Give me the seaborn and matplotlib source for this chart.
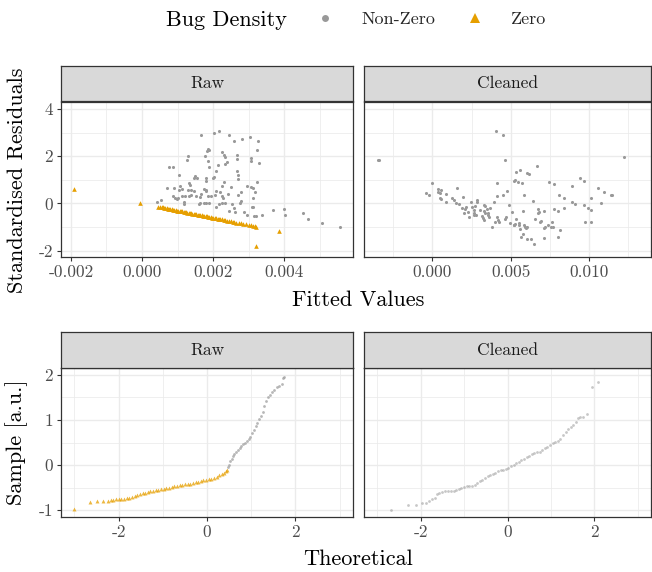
import numpy as np
import pandas as pd
import matplotlib
matplotlib.use("Agg")
import matplotlib.pyplot as plt
import seaborn as sns
from matplotlib.lines import Line2D
from matplotlib.ticker import FixedLocator, FixedFormatter

# ---------------- data ----------------
# Residuals vs fitted, Raw, non-zero bug density (fitted in units of 1e-3)
raw_nz_fit = [1.66, 2.03, 2.18, 2.44, 2.82, 3.03, 2.58, 1.85, 1.88, 1.83, 2.24, 2.30, 2.33, 1.77, 1.86,
              1.30, 1.28, 2.68, 2.67, 1.89, 2.14, 2.07, 2.39, 2.35, 0.77, 0.88, 2.67, 2.71, 1.04, 1.49,
              1.45, 1.54, 1.32, 1.34, 1.81, 1.79, 2.03, 2.00, 2.31, 2.24, 2.69, 0.69, 0.90, 1.07, 1.13,
              1.03, 1.37, 1.30, 1.45, 1.75, 1.81, 1.79, 2.07, 2.20, 2.50, 2.95, 3.12, 0.88, 0.94, 0.98,
              1.02, 1.13, 1.22, 1.32, 1.39, 1.51, 1.65, 1.62, 1.87, 1.94, 2.05, 2.24, 2.28, 2.43, 2.69,
              2.79, 2.77, 2.79, 3.12, 0.53, 0.43, 1.17, 1.19, 1.60, 1.64, 1.75, 1.79, 1.88, 2.07, 2.18,
              2.24, 2.35, 2.54, 2.58, 2.46, 2.63, 2.88, 3.10, 2.97, 3.14, 3.27, 3.24, 3.08, 3.08, 3.28,
              3.24, 3.07, 3.17, 3.13, 3.22, 3.38, 3.68, 4.00, 4.03, 4.54, 4.68, 5.08, 5.58]
raw_nz_res = [2.89, 3.00, 3.06, 2.89, 2.75, 2.80, 2.63, 2.32, 2.27, 2.21, 2.18, 2.07, 1.96, 1.99, 1.82,
              2.01, 1.86, 2.07, 1.90, 1.56, 1.65, 1.39, 1.76, 1.68, 1.56, 1.56, 1.37, 1.20, 1.20, 1.17,
              1.08, 1.06, 0.86, 0.77, 1.06, 0.97, 1.14, 1.06, 0.89, 0.75, 1.03, 0.66, 0.66, 0.72, 0.63,
              0.55, 0.55, 0.55, 0.52, 0.61, 0.58, 0.52, 0.52, 0.49, 0.69, 0.72, 0.66, 0.30, 0.24, 0.18,
              0.24, 0.30, 0.30, 0.31, 0.35, 0.32, 0.38, 0.27, 0.32, 0.30, 0.35, 0.30, 0.24, 0.41, 0.35,
              0.49, 0.01, 0.10, 0.24, 0.13, 0.07, 0.07, -0.01, -0.01, 0.03, 0.01, 0.04, 0.01, -0.15, -0.04,
              0.04, 0.01, -0.01, -0.18, -0.30, -0.35, -0.38, -0.15, -0.49, -0.55, 2.66, 2.28, 1.93, 1.82, 1.70,
              0.92, 0.69, 0.49, -0.15, -0.54, -0.49, -0.27, -0.24, -0.48, -0.41, -0.68, -0.85, -0.99]

# Residuals vs fitted, Raw, zero bug density (fitted in units of 1e-3)
raw_z_fit = [-1.90, -0.07, 3.86, 3.20,
             0.46, 0.50, 0.55, 0.58, 0.62, 0.66, 0.70, 0.73, 0.77, 0.80, 0.84, 0.88, 0.91, 0.95, 0.99,
             1.02, 1.06, 1.10, 1.13, 1.17, 1.20, 1.24, 1.28, 1.31, 1.35, 1.38, 1.42, 1.46, 1.49, 1.53,
             1.57, 1.60, 1.64, 1.68, 1.71, 1.75, 1.79, 1.82, 1.86, 1.90, 1.93, 1.97, 2.01, 2.05, 2.09,
             2.13, 2.17, 2.21, 2.25, 2.30, 2.35, 2.40, 2.45, 2.50, 2.55, 2.60, 2.66, 2.72, 2.78, 2.85,
             2.92, 3.00, 3.06, 3.12, 3.18, 3.22]
raw_z_res = [0.63, 0.03, -1.17, -1.80,
             -0.13, -0.15, -0.16, -0.17, -0.18, -0.20, -0.21, -0.22, -0.23, -0.24, -0.25, -0.26, -0.27,
             -0.28, -0.30, -0.31, -0.32, -0.33, -0.34, -0.35, -0.36, -0.37, -0.39, -0.40, -0.41, -0.42,
             -0.43, -0.44, -0.45, -0.46, -0.47, -0.48, -0.50, -0.51, -0.52, -0.53, -0.54, -0.55, -0.56,
             -0.58, -0.59, -0.60, -0.61, -0.62, -0.63, -0.65, -0.66, -0.67, -0.68, -0.70, -0.71, -0.73,
             -0.74, -0.76, -0.78, -0.79, -0.81, -0.83, -0.85, -0.87, -0.89, -0.91, -0.93, -0.95, -0.97,
             -0.98]

# Residuals vs fitted, Cleaned (fitted in units of 1e-3)
cln_fit = [4.06, 4.51, 4.64, -0.02, -0.40, -0.23, 0.36, 0.57, 0.36, 0.45, 0.87, 0.49, 0.53, 0.83, 1.26,
           1.38, 1.55, 1.47, 1.68, 1.94, 1.89, 2.06, 2.15, 2.02, 2.28, 2.32, 2.45, 2.53, 2.66, 2.62,
           2.74, 2.83, 2.87, 2.66, 2.79, 3.04, 3.13, 3.26, 3.38, 3.26, 3.34, 3.21, 3.30, 3.47, 3.55,
           3.68, 3.51, 3.60, 3.77, 3.98, 4.11, 4.19, 4.23, 3.94, 4.11, 4.11, 4.49, 4.74, 4.91, 5.09,
           4.62, 4.70, 4.96, 5.17, 5.21, 12.19, 6.66, 5.34, 5.60, 6.02, 6.15, 5.26, 5.43, 5.72, 7.43,
           7.77, 8.87, 9.43, 9.68, 10.57, 10.91, 11.38, 11.43, 5.85, 6.40, 8.06, 8.36, 8.87, 9.09, 10.11,
           10.74, 9.64, 9.89, 10.11, 5.77, 6.74, 6.79, 7.09, 6.70, 7.77, 7.98, 8.36, 6.57, 6.83, 6.91,
           7.64, 7.34, 7.17, 7.09, 7.55, 7.68, 8.15, 8.02, 7.09, 9.72, 10.11, 5.34, 5.26, 5.21, 5.51,
           5.55, 5.81, 5.89, 6.06, 5.98, 5.60, 5.77, 5.64, 6.06, 6.28, 6.49, -3.47, -3.40]
cln_res = [3.07, 2.90, 1.83, 0.87, 0.45, 0.37, 0.62, 0.59, 0.48, 0.45, 0.42, 0.23, 0.17, 0.06, 0.23,
           0.14, 0.65, 0.03, -0.03, 0.28, -0.20, -0.23, -0.17, -0.42, -0.37, -0.56, 0.06, -0.17, -0.28, -0.39,
           -0.11, 0.14, 0.08, -0.48, -0.51, -0.28, -0.54, -0.06, -0.11, -0.31, -0.39, -0.62, -0.70, -0.25, -0.42,
           -0.20, -0.51, -0.59, -1.01, -0.79, -0.56, -0.70, -0.79, 0.06, 0.85, 0.31, 0.34, 0.54, -0.06, -0.37,
           -0.65, -0.59, -0.85, -0.90, 0.96, 1.97, 1.58, 1.35, 1.41, 1.30, 1.24, 0.99, 0.90, 0.87, 0.90,
           0.82, 0.73, 1.07, 0.96, 0.65, 0.48, 0.37, 0.34, 0.37, 0.11, 0.37, 0.23, 0.06, -0.03, 0.25,
           0.00, -0.08, -0.20, -0.28, -0.31, -0.23, -0.37, -0.34, -0.42, -0.25, -0.34, -0.20, -0.68, -0.79, -0.76,
           -0.79, -0.93, -1.01, -1.04, -1.01, -1.01, -1.13, -1.44, -1.46, -0.79, -0.79, -0.65, -0.87, -0.93, -0.85,
           -0.93, -0.90, -0.99, -0.99, -1.04, -1.07, -1.30, -1.44, -1.49, -1.52, -1.72, 1.86, 1.83]

# QQ plot, Raw, zero bug density
qq_raw_z_theo = [-3.00, -2.64, -2.48, -2.35, -2.25, -2.18, -2.12, -2.06, -2.00, -1.94, -1.88, -1.82, -1.76,
                 -1.70, -1.64, -1.58, -1.52, -1.46, -1.40, -1.34, -1.28, -1.22, -1.16, -1.10, -1.04, -0.98,
                 -0.92, -0.86, -0.80, -0.74, -0.68, -0.62, -0.56, -0.50, -0.44, -0.38, -0.32, -0.26, -0.20,
                 -0.14, -0.08, -0.02, 0.04, 0.10, 0.16, 0.22, 0.28, 0.34, 0.38, 0.42, 0.45]
qq_raw_z_samp = [-0.98, -0.81, -0.80, -0.80, -0.79, -0.78, -0.77, -0.76, -0.76, -0.75, -0.75, -0.74, -0.72,
                 -0.70, -0.68, -0.66, -0.64, -0.62, -0.61, -0.60, -0.58, -0.57, -0.56, -0.55, -0.54, -0.53,
                 -0.51, -0.50, -0.48, -0.47, -0.46, -0.45, -0.44, -0.43, -0.42, -0.41, -0.39, -0.38, -0.37,
                 -0.35, -0.34, -0.33, -0.31, -0.30, -0.28, -0.26, -0.23, -0.20, -0.17, -0.14, -0.11]
# QQ plot, Raw, non-zero bug density
qq_raw_nz_theo = [0.48, 0.50, 0.53, 0.56, 0.59, 0.62, 0.66, 0.70, 0.74, 0.78, 0.82, 0.86, 0.90, 0.94, 0.98,
                  1.02, 1.06, 1.10, 1.14, 1.18, 1.22, 1.26, 1.30, 1.34, 1.38, 1.42, 1.47, 1.52, 1.58, 1.64,
                  1.69, 1.72, 1.75]
qq_raw_nz_samp = [-0.04, 0.00, 0.08, 0.14, 0.20, 0.24, 0.29, 0.33, 0.38, 0.42, 0.46, 0.50, 0.54, 0.58, 0.62,
                  0.70, 0.78, 0.86, 0.94, 1.02, 1.08, 1.18, 1.30, 1.42, 1.50, 1.56, 1.62, 1.67, 1.72, 1.76,
                  1.80, 1.92, 1.95]
# QQ plot, Cleaned
qq_cln_theo = [-2.69, -2.30, -2.10, -1.97, -1.88, -1.80, -1.73, -1.67, -1.62, -1.57, -1.52, -1.45, -1.38,
               -1.31, -1.24, -1.18, -1.12, -1.06, -1.00, -0.94, -0.88, -0.82, -0.76, -0.70, -0.64, -0.58,
               -0.52, -0.46, -0.40, -0.34, -0.28, -0.22, -0.16, -0.10, -0.04, 0.02, 0.08, 0.14, 0.20,
               0.26, 0.32, 0.38, 0.44, 0.50, 0.56, 0.62, 0.68, 0.74, 0.80, 0.86, 0.92, 0.98, 1.04, 1.10,
               1.16, 1.22, 1.28, 1.34, 1.40, 1.46, 1.52, 1.58, 1.62, 1.68, 1.74, 1.82, 1.94, 2.09]
qq_cln_samp = [-0.99, -0.88, -0.88, -0.85, -0.83, -0.80, -0.76, -0.72, -0.65, -0.61, -0.59, -0.585, -0.58,
               -0.58, -0.575, -0.55, -0.52, -0.50, -0.48, -0.47, -0.465, -0.46, -0.44, -0.40, -0.36, -0.32,
               -0.28, -0.25, -0.22, -0.19, -0.17, -0.14, -0.12, -0.10, -0.08, -0.06, -0.02, 0.01, 0.04,
               0.07, 0.11, 0.14, 0.18, 0.21, 0.24, 0.26, 0.28, 0.30, 0.34, 0.37, 0.41, 0.45, 0.49, 0.52,
               0.54, 0.58, 0.66, 0.74, 0.79, 0.84, 0.89, 0.95, 1.05, 1.07, 1.07, 1.14, 1.72, 1.83]

facet_labels = ["Raw", "Cleaned"]
legend_title = "Bug Density"
legend_labels = ["Non-Zero", "Zero"]
top_xticks_raw = [-0.002, 0.000, 0.002, 0.004]
top_xticklabels_raw = ["-0.002", "0.000", "0.002", "0.004"]
top_xticks_cln = [0.000, 0.005, 0.010]
top_xticklabels_cln = ["0.000", "0.005", "0.010"]
top_yticks = [-2, 0, 2, 4]
top_yticklabels = ["-2", "0", "2", "4"]
bot_xticks = [-2, 0, 2]
bot_xticklabels = ["-2", "0", "2"]
bot_yticks = [-1, 0, 1, 2]
bot_yticklabels = ["-1", "0", "1", "2"]

# ---------------- style ----------------
sns.set_theme(style="white")
plt.rcParams['font.family'] = ['cmr10', 'DejaVu Serif']
plt.rcParams['axes.unicode_minus'] = False
plt.rcParams['mathtext.fontset'] = 'cm'

GRAY = "#999999"
ORANGE = "#E69F00"
EDGE = "#333333"
GRID = "#EBEBEB"

W, H = 652, 572
fig = plt.figure(figsize=(W / 100, H / 100), dpi=100)


def px_axes(l, r, t, b):
    return fig.add_axes([l / W, 1 - b / H, (r - l) / W, (b - t) / H])


def style_axes(ax, xticks, xlabels, xminor, xlim, yticks, ylabels, yminor, ylim, show_y):
    ax.set_facecolor("white")
    ax.set_xlim(*xlim)
    ax.set_ylim(*ylim)
    ax.xaxis.set_major_locator(FixedLocator(xticks))
    ax.xaxis.set_major_formatter(FixedFormatter(xlabels))
    ax.xaxis.set_minor_locator(FixedLocator(xminor))
    ax.yaxis.set_major_locator(FixedLocator(yticks))
    ax.yaxis.set_minor_locator(FixedLocator(yminor))
    if show_y:
        ax.yaxis.set_major_formatter(FixedFormatter(ylabels))
    else:
        ax.yaxis.set_major_formatter(FixedFormatter([""] * len(yticks)))
    ax.grid(which="major", color=GRID, lw=1.0, zorder=0)
    ax.grid(which="minor", color=GRID, lw=0.55, zorder=0)
    ax.set_axisbelow(True)
    for sp in ax.spines.values():
        sp.set_color(EDGE)
        sp.set_linewidth(0.9)
    ax.tick_params(axis="x", which="major", bottom=True, length=3.2, width=0.8, color=EDGE,
                   labelsize=12.5, labelcolor="#4D4D4D", pad=2.5)
    ax.tick_params(axis="y", which="major", left=show_y, length=3.2 if show_y else 0, width=0.8,
                   color=EDGE, labelsize=12.5, labelcolor="#4D4D4D", pad=2.5)
    ax.tick_params(which="minor", length=0)
    ax.set_xlabel("")
    ax.set_ylabel("")


def strip(l, r, t, b, label):
    s = px_axes(l, r, t, b)
    s.set_facecolor("#D9D9D9")
    s.set_xticks([])
    s.set_yticks([])
    for sp in s.spines.values():
        sp.set_color(EDGE)
        sp.set_linewidth(0.9)
    s.text(0.5, 0.5, label, ha="center", va="center", fontsize=12.5, color="#1A1A1A",
           transform=s.transAxes)


L1, R1, L2, R2 = 61, 353, 364, 651
TOP_T, TOP_B = 102, 257
BOT_T, BOT_B = 368, 517

ax_tl = px_axes(L1, R1, TOP_T, TOP_B)
ax_tr = px_axes(L2, R2, TOP_T, TOP_B)
ax_bl = px_axes(L1, R1, BOT_T, BOT_B)
ax_br = px_axes(L2, R2, BOT_T, BOT_B)

strip(L1, R1, 66, 101, facet_labels[0])
strip(L2, R2, 66, 101, facet_labels[1])
strip(L1, R1, 332, 368, facet_labels[0])
strip(L2, R2, 332, 368, facet_labels[1])

# ---------------- top row: residuals vs fitted ----------------
df_nz = pd.DataFrame({"fit": np.array(raw_nz_fit) * 1e-3, "res": raw_nz_res})
df_z = pd.DataFrame({"fit": np.array(raw_z_fit) * 1e-3, "res": raw_z_res})
df_c = pd.DataFrame({"fit": np.array(cln_fit) * 1e-3, "res": cln_res})

sns.scatterplot(data=df_nz, x="fit", y="res", ax=ax_tl, color=GRAY, marker="o", s=5,
                linewidth=0, legend=False, zorder=3)
sns.scatterplot(data=df_z, x="fit", y="res", ax=ax_tl, color=ORANGE, marker="^", s=11,
                linewidth=0, legend=False, zorder=4)
sns.scatterplot(data=df_c, x="fit", y="res", ax=ax_tr, color=GRAY, marker="o", s=5,
                linewidth=0, legend=False, zorder=3)

ylim_top = (-2.27, 4.3)
style_axes(ax_tl, top_xticks_raw, top_xticklabels_raw, [-0.001, 0.001, 0.003, 0.005],
           (-0.00228, 0.00594), top_yticks, top_yticklabels, [-1, 1, 3], ylim_top, True)
style_axes(ax_tr, top_xticks_cln, top_xticklabels_cln, [-0.0025, 0.0025, 0.0075, 0.0125],
           (-0.00437, 0.01394), top_yticks, top_yticklabels, [-1, 1, 3], ylim_top, False)

# ---------------- bottom row: QQ plots ----------------
df_qz = pd.DataFrame({"theo": qq_raw_z_theo, "samp": qq_raw_z_samp})
df_qnz = pd.DataFrame({"theo": qq_raw_nz_theo, "samp": qq_raw_nz_samp})
df_qc = pd.DataFrame({"theo": qq_cln_theo, "samp": qq_cln_samp})

sns.scatterplot(data=df_qz, x="theo", y="samp", ax=ax_bl, color=ORANGE, marker="^", s=8,
                linewidth=0, alpha=0.75, legend=False, zorder=3)
sns.scatterplot(data=df_qnz, x="theo", y="samp", ax=ax_bl, color=GRAY, marker="o", s=4,
                linewidth=0, alpha=0.7, legend=False, zorder=3)
sns.scatterplot(data=df_qc, x="theo", y="samp", ax=ax_br, color=GRAY, marker="o", s=4,
                linewidth=0, alpha=0.55, legend=False, zorder=3)

xlim_bot = (-3.305, 3.305)
ylim_bot = (-1.15, 2.15)
style_axes(ax_bl, bot_xticks, bot_xticklabels, [-3, -1, 1, 3], xlim_bot,
           bot_yticks, bot_yticklabels, [-0.5, 0.5, 1.5], ylim_bot, True)
style_axes(ax_br, bot_xticks, bot_xticklabels, [-3, -1, 1, 3], xlim_bot,
           bot_yticks, bot_yticklabels, [-0.5, 0.5, 1.5], ylim_bot, False)

# ---------------- axis titles ----------------
fig.text(17 / W, 1 - 180 / H, "Standardised Residuals", rotation=90, ha="center", va="center",
         fontsize=16, color="black")
fig.text(17 / W, 1 - 442 / H, "Sample [a.u.]", rotation=90, ha="center", va="center",
         fontsize=16, color="black")
fig.text(358 / W, 1 - 300 / H, "Fitted Values", ha="center", va="center", fontsize=16, color="black")
fig.text(358 / W, 1 - 559 / H, "Theoretical", ha="center", va="center", fontsize=16, color="black")

# ---------------- legend ----------------
fig.text(166 / W, 1 - 20 / H, legend_title, ha="left", va="center", fontsize=16, color="black")
handles = [Line2D([], [], linestyle="none", marker="o", markersize=5, color=GRAY, markeredgewidth=0),
           Line2D([], [], linestyle="none", marker="^", markersize=6.5, color=ORANGE, markeredgewidth=0)]
fig.legend(handles, legend_labels, loc="center left", bbox_to_anchor=(316 / W, 1 - 19 / H),
           ncol=2, frameon=False, fontsize=13, handlelength=1.0, handletextpad=1.5,
           columnspacing=1.7, borderaxespad=0, borderpad=0)

fig.savefig("out.png", dpi=100)
